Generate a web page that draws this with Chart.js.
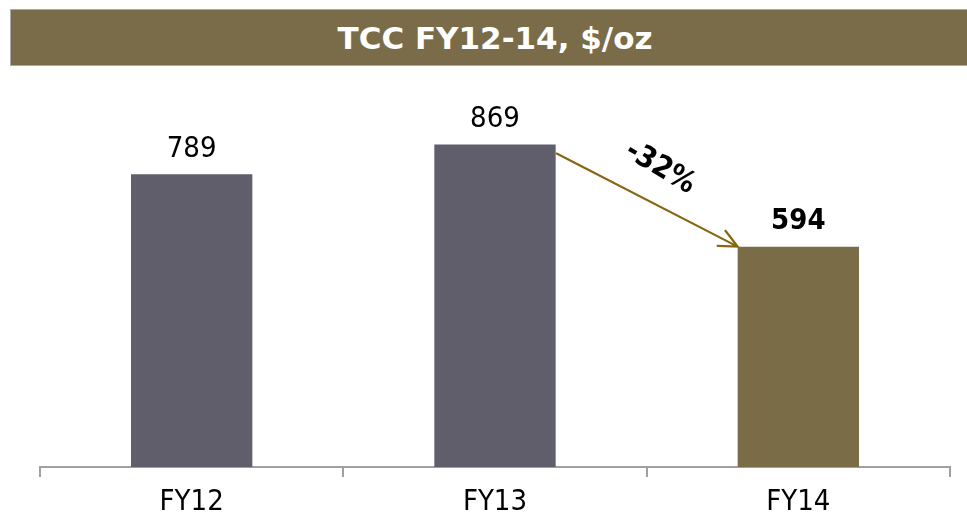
<!DOCTYPE html>
<html>
<head>
<meta charset="utf-8">
<script src="https://cdn.jsdelivr.net/npm/chart.js@4"></script>
<style>
  html, body { margin: 0; padding: 0; background: #fff; }
  #wrap { position: relative; width: 967px; height: 516px; overflow: hidden; }
  #banner {
    position: absolute; left: 10px; top: 9px; width: 965px; height: 57px;
    background: #7B6C49; border: 1px solid #A9A9A9; box-sizing: border-box;
    color: #fff; font: bold 31px "DejaVu Sans", Verdana, sans-serif;
    display: flex; align-items: center; justify-content: center;
    padding-left: 5px; padding-top: 1px; white-space: nowrap;
  }
  canvas { position: absolute; left: 0; top: 0; }
</style>
</head>
<body>
<div id="wrap">
  <div id="banner">TCC FY12-14, $/oz</div>
  <canvas id="c" width="967" height="516"></canvas>
</div>
<script>
// Total cash cost per ounce, fiscal years 2012-2014
const categories = ['FY12', 'FY13', 'FY14'];
const tccValues = [789, 869, 594];
const changeLabel = '-32%';

const GREY = '#5F5E6A';
const OLIVE = '#7B6C48';
const ARROW = '#876610';
const FONT = '"DejaVu Sans Condensed", "DejaVu Sans", Verdana, sans-serif';

// value labels above each bar; the last one is bold
const valueLabels = {
  id: 'valueLabels',
  afterDatasetsDraw(chart) {
    const ctx = chart.ctx;
    const meta = chart.getDatasetMeta(0);
    ctx.save();
    ctx.fillStyle = '#000';
    ctx.textAlign = 'center';
    ctx.textBaseline = 'middle';
    meta.data.forEach((bar, i) => {
      const last = i === meta.data.length - 1;
      ctx.font = (last ? 'bold ' : '') + '29px ' + FONT;
      ctx.fillText(String(tccValues[i]), bar.x, bar.y - 25);
    });
    ctx.restore();
  }
};

// arrow from the FY13 bar down to the FY14 bar, with the change label
const changeArrow = {
  id: 'changeArrow',
  afterDatasetsDraw(chart) {
    const ctx = chart.ctx;
    const meta = chart.getDatasetMeta(0);
    const a = meta.data[1], b = meta.data[2];
    const x1 = a.x + a.width / 2 + 1, y1 = a.y + 9;
    const x2 = b.x - b.width / 2, y2 = b.y;
    const ang = Math.atan2(y2 - y1, x2 - x1);
    ctx.save();
    ctx.strokeStyle = ARROW;
    ctx.lineWidth = 2.2;
    ctx.lineCap = 'round';
    ctx.beginPath();
    ctx.moveTo(x1, y1);
    ctx.lineTo(x2, y2);
    const head = 20, spread = 0.44;
    ctx.moveTo(x2 - head * Math.cos(ang - spread), y2 - head * Math.sin(ang - spread));
    ctx.lineTo(x2, y2);
    ctx.lineTo(x2 - head * Math.cos(ang + spread), y2 - head * Math.sin(ang + spread));
    ctx.stroke();
    // label above the arrow
    const mx = (x1 + x2) / 2, my = (y1 + y2) / 2;
    ctx.translate(mx + 13, my - 32);
    ctx.rotate(ang + 0.06);
    ctx.fillStyle = '#000';
    ctx.font = 'bold 30px ' + FONT;
    ctx.textAlign = 'center';
    ctx.textBaseline = 'middle';
    ctx.fillText(changeLabel, 0, 0);
    ctx.restore();
  }
};

new Chart(document.getElementById('c'), {
  type: 'bar',
  data: {
    labels: categories,
    datasets: [{
      data: tccValues,
      backgroundColor: [GREY, GREY, OLIVE],
      borderWidth: 0,
      categoryPercentage: 1,
      barPercentage: 0.4
    }]
  },
  options: {
    responsive: false,
    animation: false,
    events: [],
    layout: { padding: { left: 40, right: 17, top: 96, bottom: 0 } },
    plugins: { legend: { display: false }, tooltip: { enabled: false }, title: { display: false } },
    scales: {
      y: { display: false, min: 0, max: 1000 },
      x: {
        afterFit(s) { s.height = 49; },
        border: { display: true, color: '#A0A0A0', width: 2 },
        grid: {
          offset: true, drawOnChartArea: false, drawTicks: true,
          tickLength: 10, color: '#A0A0A0', lineWidth: 2
        },
        ticks: {
          color: '#000', padding: 8,
          font: { family: FONT, size: 29 }
        }
      }
    }
  },
  plugins: [valueLabels, changeArrow]
});
</script>
</body>
</html>
